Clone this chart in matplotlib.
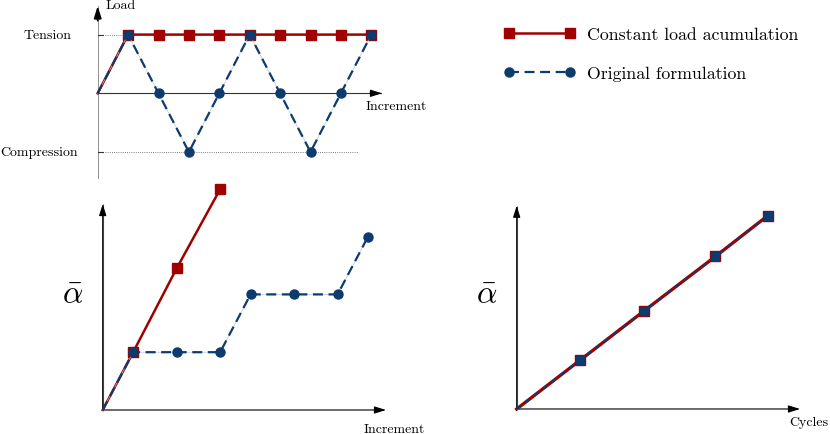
import matplotlib
matplotlib.use("Agg")
import matplotlib.pyplot as plt

plt.rcParams["font.family"] = "serif"
plt.rcParams["font.serif"] = ["cmr10", "DejaVu Serif"]
plt.rcParams["mathtext.fontset"] = "cm"
plt.rcParams["axes.unicode_minus"] = False

# daten
# Lastgeschichte (oben links)
load_inc = [0, 1, 2, 3, 4, 5, 6, 7, 8, 9]
load_const = [0, 1, 1, 1, 1, 1, 1, 1, 1, 1]
load_orig = [0, 1, 0, -1, 0, 1, 0, -1, 0, 1]
tension = 1
compression = -1

# alpha ueber Inkremente (unten links)
inc_const = [0, 0.7, 1.7, 2.7]
alpha_const = [0, 1, 2.45, 3.82]
inc_orig = [0, 0.7, 1.7, 2.7, 3.4, 4.4, 5.4, 6.1]
alpha_orig = [0, 1, 1, 1, 2, 2, 2, 3]

# alpha ueber Zyklen (unten rechts)
cycles = [0, 1, 2, 3.13, 3.95]
alpha_cyc = [0, 1, 2, 3.12, 3.95]

RED = "#a00000"
BLUE = "#0d3b6e"
W, H = 830, 435


def axes_px(fig, left, right, top, bottom):
    # Achsen in Pixelkoordinaten platzieren
    ax = fig.add_axes([left / W, 1 - bottom / H, (right - left) / W, (bottom - top) / H])
    ax.set_axis_off()
    return ax


def pfeil(ax, x0, y0, x1, y1, color="#555555", lw=0.8, hc="black"):
    ax.annotate("", xy=(x1, y1), xytext=(x0, y0),
                arrowprops=dict(arrowstyle="-|>,head_length=0.7,head_width=0.22",
                                color=color, lw=lw, shrinkA=0, shrinkB=0,
                                fc=hc, ec=hc), annotation_clip=False)
    ax.plot([x0, x1], [y0, y1], color=color, lw=lw, solid_capstyle="butt")


def orig_line(ax, x, y, marker="o", ms=6.5, lw=1.6, dashes=(4.5, 2.5)):
    # duenne Hilfslinie unter den Strichen
    ax.plot(x, y, color="#b8c6d6", lw=0.5, clip_on=False, zorder=3)
    ln, = ax.plot(x, y, color=BLUE, lw=lw, ls=(0, dashes), marker=marker, ms=ms,
                  markevery=slice(1, None), clip_on=False, zorder=4)
    return ln


fig = plt.figure(figsize=(W / 100, H / 100), dpi=100)

# ---------------- oben links: Last ----------------
x_unit, y_unit = 30.4, 58.7
ox, oy = 97.7, 94.3
ax1 = axes_px(fig, ox, 382, 7, 180)
ax1.set_xlim(0, (382 - ox) / x_unit)
ax1.set_ylim(-(180 - oy) / y_unit, (oy - 7) / y_unit)
xmax1 = ax1.get_xlim()[1]
y0_1, y1_1 = ax1.get_ylim()
ax1.plot([0, 0], [y0_1, y1_1 - 0.2], color="#888888", lw=1.3, solid_capstyle="butt")
ax1.plot([0, xmax1 - 0.3], [0, 0], color="#333333", lw=0.8)
pfeil(ax1, 0, y1_1 - 0.25, 0, y1_1, color="#888888", lw=1.3)
pfeil(ax1, xmax1 - 0.4, 0, xmax1, 0, color="#333333", lw=0.8)
for lvl, end in [(tension, 1), (compression, 8.55)]:
    ax1.plot([-0.18, 0.18], [lvl, lvl], color="#333333", lw=0.8)
    ax1.plot([0.25, end], [lvl, lvl], color="#555555", lw=0.6, ls=(0, (1.0, 1.6)))
ax1.text(-0.85, tension, "Tension", ha="right", va="center", fontsize=10)
ax1.text(-0.65, compression, "Compression", ha="right", va="center", fontsize=10)
ax1.text(0.25, y1_1 + 0.02, "Load", ha="left", va="center", fontsize=10)
ax1.text(xmax1 - 0.55, -0.21, "Increment", ha="left", va="center", fontsize=10)

red_ln, = ax1.plot(load_inc, load_const, color=RED, lw=1.8, marker="s", ms=6.5,
                   markevery=slice(1, None), clip_on=False, zorder=3)
blue_ln = orig_line(ax1, load_inc, load_orig)

# ---------------- unten links: alpha ueber Inkremente ----------------
ox2, oy2 = 102.7, 411
ax2 = axes_px(fig, ox2, 386, 205, oy2)
ax2.set_xlim(0, (386 - ox2) / 43.5)
ax2.set_ylim(0, (oy2 - 205) / 57.8)
pfeil(ax2, 0, 0, ax2.get_xlim()[1], 0)
pfeil(ax2, 0, 0, 0, ax2.get_ylim()[1])
ax2.plot(inc_const, alpha_const, color=RED, lw=1.8, marker="s", ms=6.5,
         markevery=slice(1, None), clip_on=False, zorder=3)
orig_line(ax2, inc_orig, alpha_orig)
ax2.text(-0.7, 2.0, r"$\bar{\alpha}$", ha="center", va="center", fontsize=23)
ax2.text(6.7, -0.33, "Increment", ha="center", va="center", fontsize=10)

# ---------------- unten rechts: alpha ueber Zyklen ----------------
ox3, oy3 = 516.7, 410
ax3 = axes_px(fig, ox3, 800, 206.7, oy3)
ax3.set_xlim(0, (800 - ox3) / 63.5)
ax3.set_ylim(0, (oy3 - 206.7) / 48.9)
pfeil(ax3, 0, 0, ax3.get_xlim()[1], 0)
pfeil(ax3, 0, 0, 0, ax3.get_ylim()[1])
ax3.plot(cycles, alpha_cyc, color=RED, lw=2.4, marker="s", ms=7,
         markevery=slice(1, None), clip_on=False, zorder=3)
ax3.plot(cycles, alpha_cyc, color=BLUE, lw=1.6, ls=(0, (2.5, 2.5)), marker="s", ms=5.5,
         mec=BLUE, markevery=slice(1, None), clip_on=False, zorder=4)
ax3.text(-0.47, 2.34, r"$\bar{\alpha}$", ha="center", va="center", fontsize=23)
ax3.text((828 - ox3) / 63.5, -0.27, "Cycles", ha="right", va="center", fontsize=10)

# Legende
fig.legend(handles=[red_ln, blue_ln],
           labels=["Constant load acumulation", "Original formulation"],
           loc="upper left", bbox_to_anchor=(504 / W, 1 - 28 / H),
           frameon=False, fontsize=12.8, numpoints=2, handlelength=4.0,
           handletextpad=0.68, labelspacing=1.3, borderpad=0, borderaxespad=0)

fig.savefig("out.png", dpi=100)
